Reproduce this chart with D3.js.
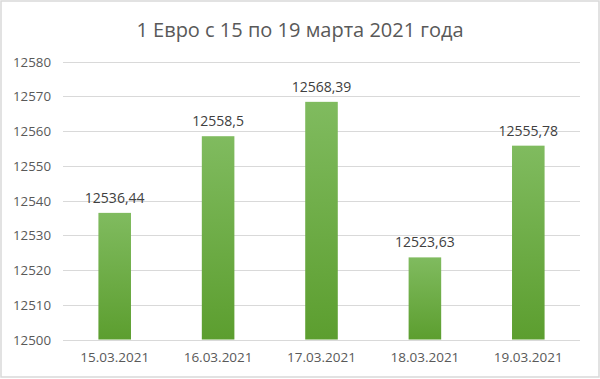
<!DOCTYPE html>
<html>
<head>
<meta charset="utf-8">
<script src="https://cdn.jsdelivr.net/npm/d3@7"></script>
<style>
  body { margin: 0; background: #fff; }
  svg { display: block; font-family: "Open Sans", sans-serif; }
</style>
</head>
<body>
<svg></svg>
<script>
// данные: курс евро за неделю
var dates = ["15.03.2021", "16.03.2021", "17.03.2021", "18.03.2021", "19.03.2021"]
var values = [12536.44, 12558.5, 12568.39, 12523.63, 12555.78]
var labels = ["12536,44", "12558,5", "12568,39", "12523,63", "12555,78"]
var yTicks = [12500, 12510, 12520, 12530, 12540, 12550, 12560, 12570, 12580]

var W = 600, H = 379

var svg = d3.select("svg")
    .attr("width", W)
    .attr("height", H)

// рамка
svg.append("rect")
    .attr("x", 1).attr("y", 1)
    .attr("width", W - 2).attr("height", H - 3)
    .attr("fill", "#fff")
    .attr("stroke", "#d9d9d9")
    .attr("stroke-width", 1.5)

var defs = svg.append("defs")
var grad = defs.append("linearGradient")
    .attr("id", "barGrad")
    .attr("x1", 0).attr("y1", 0).attr("x2", 0).attr("y2", 1)
grad.append("stop").attr("offset", "0%").attr("stop-color", "#80bb5f")
grad.append("stop").attr("offset", "100%").attr("stop-color", "#5c9e2f")

var x = d3.scaleBand()
    .domain(dates)
    .range([63, 580])
    .paddingInner(0.685)
    .paddingOuter(0.3425)

var y = d3.scaleLinear()
    .domain([12500, 12580])
    .range([339.5, 61.5])

// сетка
svg.append("g")
    .selectAll("line")
    .data(yTicks)
    .enter()
    .append("line")
    .attr("x1", 63)
    .attr("x2", 580)
    .attr("y1", function(d) { return Math.round(y(d)) + 0.5 })
    .attr("y2", function(d) { return Math.round(y(d)) + 0.5 })
    .attr("stroke", "#d9d9d9")
    .attr("stroke-width", 1)

// подписи оси y
svg.append("g")
    .selectAll("text")
    .data(yTicks)
    .enter()
    .append("text")
    .attr("x", 51)
    .attr("y", function(d) { return y(d) + 5 })
    .attr("text-anchor", "end")
    .attr("font-size", 13.3)
    .attr("fill", "#595959")
    .text(function(d) { return d })

// столбцы
svg.append("g")
    .selectAll("rect")
    .data(values)
    .enter()
    .append("rect")
    .attr("x", function(d, i) { return x(dates[i]) })
    .attr("y", function(d) { return y(d) })
    .attr("width", x.bandwidth())
    .attr("height", function(d) { return y(12500) - y(d) })
    .attr("fill", "url(#barGrad)")

// подписи значений
svg.append("g")
    .selectAll("text")
    .data(values)
    .enter()
    .append("text")
    .attr("x", function(d, i) { return x(dates[i]) + x.bandwidth() / 2 })
    .attr("y", function(d) { return y(d) - 10 })
    .attr("text-anchor", "middle")
    .attr("font-size", 14)
    .attr("fill", "#404040")
    .text(function(d, i) { return labels[i] })

// подписи оси x
svg.append("g")
    .selectAll("text")
    .data(dates)
    .enter()
    .append("text")
    .attr("x", function(d) { return x(d) + x.bandwidth() / 2 })
    .attr("y", 362)
    .attr("text-anchor", "middle")
    .attr("font-size", 13.5)
    .attr("fill", "#595959")
    .text(function(d) { return d })

// заголовок
svg.append("text")
    .attr("x", 300)
    .attr("y", 37)
    .attr("text-anchor", "middle")
    .attr("font-size", 20)
    .attr("fill", "#595959")
    .text("1 Евро с 15 по 19 марта 2021 года")
</script>
</body>
</html>
